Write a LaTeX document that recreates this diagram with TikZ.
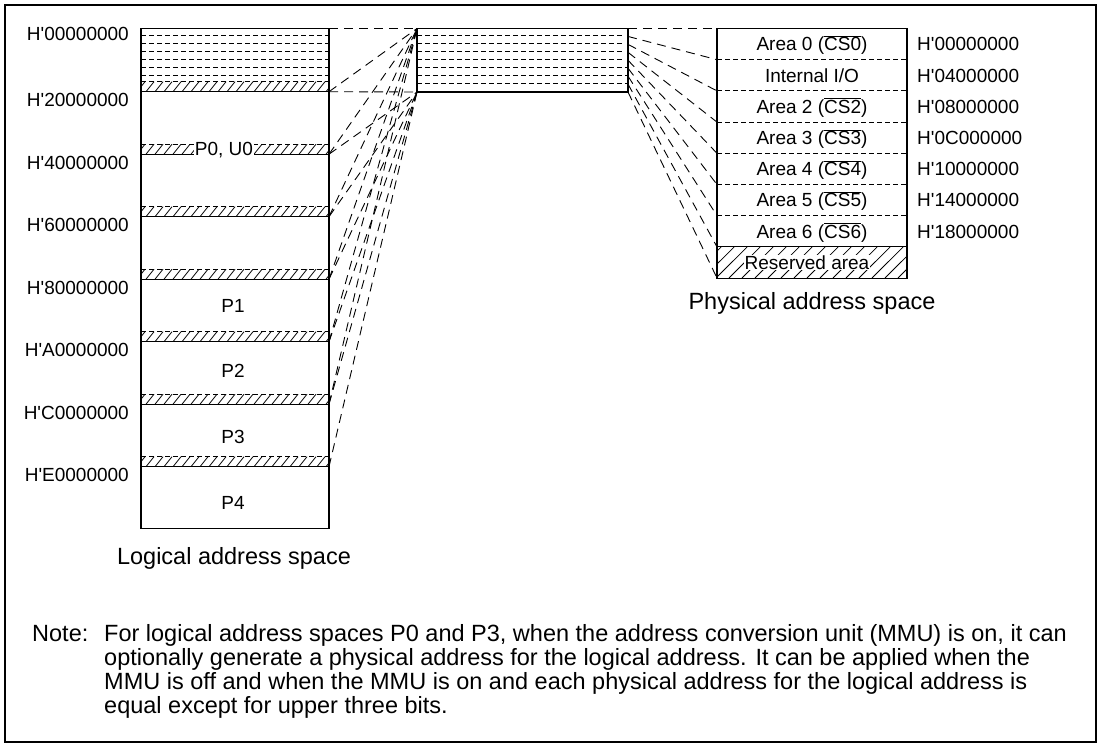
\documentclass[tikz,border=0pt]{standalone}
\usepackage{fontspec}
\setmainfont{Liberation Sans}
\newcommand{\hq}{H\textquotesingle}
\begin{document}
\begin{tikzpicture}[x=1pt,y=-1pt,
  box/.style={line width=1.1pt},
  conn/.style={line width=0.9pt, dash pattern=on 9pt off 6pt},
  fine/.style={line width=0.9pt, dash pattern=on 5pt off 3pt},
  hatchln/.style={line width=0.8pt},
  lbl/.style={font=\fontsize{19}{22}\selectfont, inner sep=0pt},
  captxt/.style={font=\fontsize{23.5}{28}\selectfont, inner sep=0pt}]
\useasboundingbox (0,0) rectangle (1101,747);
\draw[line width=1.2pt] (5,5) rectangle (1096,742);

% ---------- logical address space ----------
\foreach \k/\y in {0/28.5,1/91.7,2/154.2,3/216.7,4/279.2,5/341.7,6/404.2,7/466.7,8/528.5}{
  \coordinate (L\k) at (329,\y);
  \coordinate (LW\k) at (141,\y);
}
% hatched strips
\foreach \k/\y in {1/91.7,2/154.2,3/216.7,4/279.2,5/341.7,6/404.2,7/466.7}{
  \begin{scope}
    \clip (141,{\y-10}) rectangle (329,\y);
    \foreach \x in {128,137,...,340}
      \draw[hatchln] (\x,\y) -- ({\x+8},{\y-10});
  \end{scope}
  \draw[fine] (141,{\y-10}) -- (329,{\y-10});
  \draw[box] (LW\k) -- (L\k);
}
% dashed lines in first region
\foreach \y in {35.2,43.2,51.5,59.3,67.2,75.2}
  \draw[fine] (141,\y) -- (329,\y);
\draw[box] (LW0) rectangle (L8);

% left address labels
\node[lbl, anchor=base east] (la0) at (129,40.1) {\hq 00000000};
\foreach \k/\t in {1/20000000,2/40000000,3/60000000,4/80000000,5/A0000000,6/C0000000,7/E0000000}
  \node[lbl, anchor=base east] (la\k) at (129,{100+62.5*(\k-1)+6.8}) {\hq\t};

\node[lbl, fill=white, inner sep=0.5pt] (p0) at (224,150) {P0, U0};
\node[lbl] (p1) at (233,306) {P1};
\node[lbl] (p2) at (233,371) {P2};
\node[lbl] (p3) at (233,437) {P3};
\node[lbl] (p4) at (233,503) {P4};
\node[captxt] (lcap) at (234,558) {Logical address space};

% ---------- middle box ----------
\coordinate (A) at (417,28.5);
\coordinate (B) at (417,92);
\coordinate (MR) at (628,92);
\foreach \y in {35.2,43.3,51.5,59.3}
  \draw[fine] (417,\y) -- (623,\y);
\foreach \y in {67.3,75.3,83.3}
  \draw[fine] (417,\y) -- (628,\y);
\draw[box] (A) rectangle (MR);

% ---------- physical box ----------
\foreach \i in {0,...,8}{
  \coordinate (P\i) at (717,{28.5+31.2*\i});
  \coordinate (PE\i) at (907,{28.5+31.2*\i});
  \coordinate (M\i) at (628,{28.5+7.94*\i});
}
\begin{scope}
  \clip (P7) rectangle (PE8);
  \foreach \x in {690,703,...,920}
    \draw[hatchln] (\x,278) -- ({\x+31.2},246.9);
\end{scope}
\foreach \i in {1,...,6}
  \draw[fine] (P\i) -- (PE\i);
\draw[box] (P7) -- (PE7);
\draw[box] (P0) rectangle (PE8);

\foreach \i/\t in {0/{Area 0 ($\overline{\mbox{CS0}}$)},1/{Internal I/O},2/{Area 2 ($\overline{\mbox{CS2}}$)},3/{Area 3 ($\overline{\mbox{CS3}}$)},4/{Area 4 ($\overline{\mbox{CS4}}$)},5/{Area 5 ($\overline{\mbox{CS5}}$)},6/{Area 6 ($\overline{\mbox{CS6}}$)}}
  \node[lbl, anchor=base] (pa\i) at (812,{44.1+31.2*\i+6.8}) {\t};
\node[lbl, fill=white, inner sep=1pt, anchor=base] (res) at (807,{262.5+6.8}) {Reserved area};

\foreach \i/\t in {0/00000000,1/04000000,2/08000000,3/0C000000,4/10000000,5/14000000,6/18000000}
  \node[lbl, anchor=base west] (ra\i) at (917,{44.1+31.2*\i+6.8}) {\hq\t};
\node[captxt] (pcap) at (812,303) {Physical address space};

% ---------- connectors ----------
\draw[conn] (L0) -- (A);
\draw[conn] (L1) -- (B);
\foreach \k in {1,...,6} \draw[conn] (L\k) -- (A);
\foreach \k in {2,...,7} \draw[conn] (L\k) -- (B);
\foreach \i in {0,...,8} \draw[conn] (M\i) -- (P\i);

% ---------- note ----------
\node[captxt, anchor=base west] (note) at (32,641.7) {Note:};
\node[captxt, anchor=base west] (n1) at (104,641.7) {For logical address spaces P0 and P3, when the address conversion unit (MMU) is on, it can};
\node[captxt, anchor=base west] (n2) at (104,665.7) {optionally generate a physical address for the logical address. It can be applied when the};
\node[captxt, anchor=base west] (n3) at (104,689.7) {MMU is off and when the MMU is on and each physical address for the logical address is};
\node[captxt, anchor=base west] (n4) at (104,713.7) {equal except for upper three bits.};
\end{tikzpicture}
\end{document}
